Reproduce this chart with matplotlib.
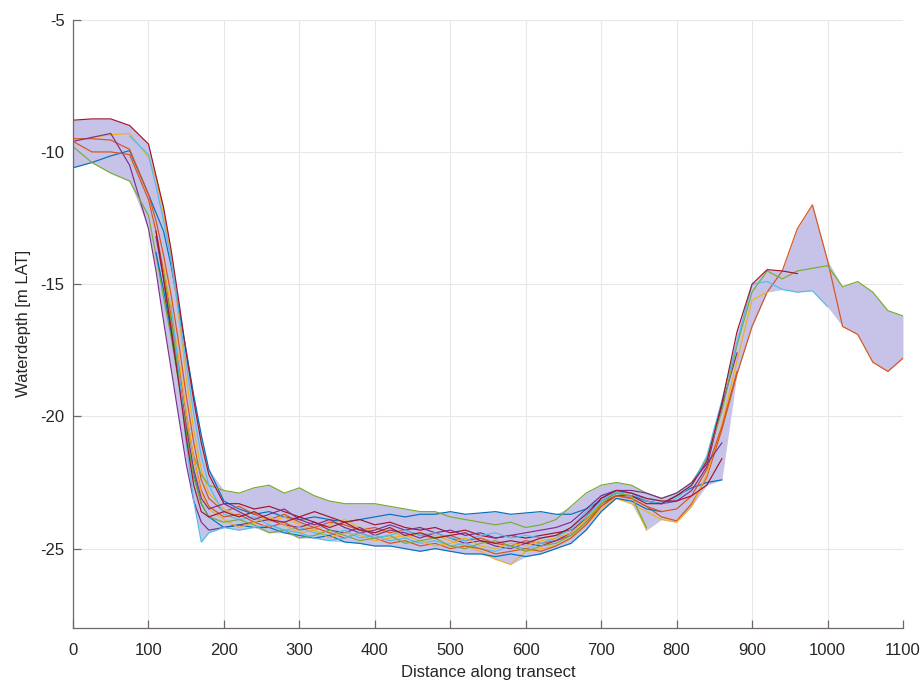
import numpy as np
import matplotlib.pyplot as plt

nan = np.nan

# distance along transect (common grid for all surveys)
dist = [0, 25, 50, 75, 100,
        110, 120, 130, 140, 150, 160, 170, 180,
        200, 220, 240, 260, 280, 300, 320, 340, 360, 380,
        400, 420, 440, 460, 480, 500, 520, 540, 560, 580,
        600, 620, 640, 660, 680, 700, 720, 740, 760, 780,
        800, 820, 840, 860, 880, 900, 920, 940, 960, 980,
        1000, 1020, 1040, 1060, 1080, 1100]

# waterdepth per survey [m LAT]
s01 = [-10.6, -10.4, -10.15, -9.95, -11.6,
       -12.3, -13.0, -14.3, -15.9, -17.5, -19.2, -20.7, -22.0,
       -23.2, -23.5, -23.7, -23.6, -23.8, -23.9, -23.8, -23.9, -24.0, -23.9,
       -23.8, -23.7, -23.8, -23.7, -23.7, -23.6, -23.7, -23.65, -23.6, -23.7,
       -23.65, -23.6, -23.7, -23.7, -23.5, -23.2, -22.9, -23.0, -23.2, -23.3,
       -23.0, -22.7, -22.5, -22.4, nan, nan, nan, nan, nan, nan,
       nan, nan, nan, nan, nan, nan]
s02 = [-9.5, -9.5, -9.55, -9.9, -11.6,
       -12.6, -13.9, -15.4, -17.2, -19.2, -21.0, -22.4, -23.1,
       -23.6, -23.4, -23.7, -23.9, -23.7, -24.0, -24.2, -24.0, -24.1, -24.3,
       -24.2, -24.4, -24.3, -24.5, -24.6, -24.5, -24.7, -24.6, -24.8, -24.9,
       -24.7, -24.8, -24.7, -24.5, -24.0, -23.4, -23.0, -23.1, -23.4, -23.8,
       -23.95, -23.3, -22.3, -20.5, -18.4, -16.6, -15.3, -14.5, -12.9, -12.0,
       -14.1, -16.6, -16.9, -17.95, -18.3, -17.8]
s03 = [nan, -9.45, -9.35, -9.3, -10.2,
       -11.0, -12.3, -14.0, -16.2, -18.5, -20.5, -22.0, -22.9,
       -23.5, -23.8, -23.6, -24.0, -23.8, -24.1, -24.3, -24.1, -23.9, -24.2,
       -24.4, -24.3, -24.6, -24.4, -24.5, -24.7, -24.9, -25.1, -25.4, -25.6,
       -25.1, -25.0, -24.9, -24.6, -24.1, -23.5, -23.1, -23.3, -23.6, -23.9,
       -24.0, -23.4, -22.2, -20.3, -17.9, -15.6, -15.3, nan, nan, nan,
       nan, nan, nan, nan, nan, nan]
s04 = [-9.6, -9.45, -9.3, -10.5, -12.9,
       -14.5, -16.4, -18.2, -20.0, -21.8, -23.2, -24.0, -24.3,
       -24.2, -24.1, -24.0, -23.9, -24.1, -24.2, -24.0, -24.3, -24.4, -24.2,
       -24.5, -24.3, -24.4, -24.6, -24.4, -24.6, -24.8, -24.7, -24.9, -25.0,
       -24.8, -24.9, -24.7, -24.4, -23.8, -23.1, -22.8, -22.9, -23.2, -23.3,
       -23.2, -22.8, -21.9, -19.6, -17.6, nan, nan, nan, nan, nan,
       nan, nan, nan, nan, nan, nan]
s05 = [-9.8, -10.4, -10.8, -11.1, -12.4,
       -13.9, -15.5, -17.0, -18.7, -20.3, -21.5, -22.2, -22.6,
       -22.8, -22.9, -22.7, -22.6, -22.9, -22.7, -23.0, -23.2, -23.3, -23.3,
       -23.3, -23.4, -23.5, -23.6, -23.6, -23.8, -23.9, -24.0, -24.1, -24.0,
       -24.2, -24.1, -23.9, -23.4, -22.9, -22.6, -22.5, -22.6, -22.9, -23.1,
       -22.9, -22.5, -21.6, -19.8, -17.3, -15.3, -14.5, -14.8, -14.5, -14.4,
       -14.3, -15.1, -14.9, -15.3, -16.0, -16.2]
s06 = [nan, nan, nan, -9.4, -10.1,
       -11.3, -12.6, -14.1, -16.0, -18.0, -19.9, -21.5, -22.6,
       -23.7, -23.9, -23.8, -24.1, -24.3, -24.2, -24.4, -24.5, -24.3, -24.6,
       -24.5, -24.7, -24.6, -24.8, -24.7, -24.9, -24.8, -25.0, -25.1, -24.9,
       -25.0, -24.8, -24.6, -24.2, -23.6, -23.0, -22.8, -22.9, -23.2, -23.3,
       -23.1, -22.6, -21.5, -19.4, -17.2, -15.0, -14.9, -15.2, -15.3, -15.25,
       -15.85, nan, nan, nan, nan, nan]
s07 = [-8.8, -8.75, -8.75, -9.0, -9.7,
       -10.9, -12.1, -13.7, -15.6, -17.6, -19.4, -21.0, -22.2,
       -23.3, -23.3, -23.5, -23.4, -23.6, -23.8, -23.6, -23.8, -24.0, -23.9,
       -24.1, -24.0, -24.2, -24.3, -24.2, -24.4, -24.3, -24.5, -24.6, -24.5,
       -24.6, -24.5, -24.4, -24.3, -23.9, -23.3, -23.0, -23.0, -23.3, -23.3,
       -23.0, -22.6, -21.7, -19.5, -16.8, -15.0, -14.45, -14.5, -14.6, nan,
       nan, nan, nan, nan, nan, nan]
s08 = [nan, nan, nan, nan, nan,
       -13.8, -15.2, -16.8, -18.6, -20.5, -22.2, -23.3, -23.8,
       -24.2, -24.1, -24.2, -24.2, -24.4, -24.5, -24.6, -24.5, -24.75, -24.8,
       -24.9, -24.9, -25.0, -25.1, -25.0, -25.1, -25.2, -25.2, -25.3, -25.2,
       -25.3, -25.2, -25.0, -24.8, -24.3, -23.6, -23.1, -23.2, -23.5, -23.6,
       nan, nan, nan, nan, nan, nan, nan, nan, nan, nan,
       nan, nan, nan, nan, nan, nan]
s09 = [-9.6, -10.0, -10.0, -10.1, -11.8,
       -13.0, -14.5, -16.2, -18.0, -19.9, -21.6, -22.8, -23.4,
       -23.8, -23.7, -24.0, -24.2, -24.0, -24.3, -24.2, -24.4, -24.6, -24.4,
       -24.6, -24.8, -24.7, -24.9, -24.8, -25.0, -24.9, -25.0, -25.2, -25.1,
       -25.0, -25.1, -24.9, -24.6, -24.1, -23.4, -23.0, -23.1, -23.4, -23.6,
       -23.5, -23.0, -22.0, -20.4, -18.3, nan, nan, nan, nan, nan,
       nan, nan, nan, nan, nan, nan]
s10 = [nan, nan, nan, nan, nan,
       nan, -14.3, -15.9, -17.8, -19.8, -21.6, -22.9, -23.5,
       -23.9, -24.2, -24.0, -23.8, -24.1, -24.4, -24.3, -24.6, -24.4, -24.5,
       -24.7, -24.6, -24.5, -24.7, -24.9, -24.8, -24.6, -24.9, -25.0, -24.8,
       -24.9, -24.7, -24.6, -24.4, -23.9, -23.3, -22.9, -23.0, -24.3, nan,
       nan, nan, nan, nan, nan, nan, nan, nan, nan, nan,
       nan, nan, nan, nan, nan, nan]
s11 = [nan, nan, nan, nan, nan,
       -13.2, -14.8, -16.5, -18.4, -20.4, -22.0, -23.1, -23.5,
       -23.3, -23.6, -23.9, -23.7, -23.5, -23.9, -24.1, -23.9, -24.2, -24.4,
       -24.3, -24.1, -24.3, -24.2, -24.4, -24.3, -24.5, -24.4, -24.6, -24.5,
       -24.4, -24.3, -24.2, -24.0, -23.5, -23.0, -22.8, -22.8, -22.9, -23.1,
       -22.9, -22.5, -21.8, -21.0, nan, nan, nan, nan, nan, nan,
       nan, nan, nan, nan, nan, nan]
s12 = [nan, nan, nan, nan, nan,
       nan, -14.6, -16.4, -18.5, -20.6, -22.3, -23.3, -23.8,
       -24.0, -23.9, -24.1, -24.4, -24.3, -24.6, -24.5, -24.3, -24.5, -24.7,
       -24.6, -24.5, -24.8, -24.7, -24.6, -24.9, -25.0, -24.8, -24.7, -24.9,
       -25.1, -24.9, -24.8, -24.5, -24.0, -23.3, -22.9, -23.0, -24.2, nan,
       nan, nan, nan, nan, nan, nan, nan, nan, nan, nan,
       nan, nan, nan, nan, nan, nan]
s13 = [nan, nan, nan, nan, nan,
       nan, nan, -15.8, -18.2, -21.0, -23.2, -24.75, -24.4,
       -24.2, -24.3, -24.2, -24.1, -24.3, -24.4, -24.6, -24.7, -24.6, -24.4,
       -24.6, -24.5, -24.3, -24.5, -24.4, -24.6, -24.7, -24.5, -24.4, -24.6,
       -24.5, -24.6, -24.5, -24.3, -23.8, -23.2, -22.85, -22.9, -23.1, -23.2,
       nan, nan, nan, nan, nan, nan, nan, nan, nan, nan,
       nan, nan, nan, nan, nan, nan]
s14 = [nan, nan, nan, nan, nan,
       -13.0, -14.8, -16.7, -18.7, -20.8, -22.6, -23.6, -23.8,
       -23.6, -23.8, -23.6, -23.9, -24.0, -23.8, -24.0, -24.2, -24.0, -24.3,
       -24.4, -24.2, -24.5, -24.4, -24.6, -24.5, -24.4, -24.7, -24.8, -24.7,
       -24.8, -24.6, -24.5, -24.2, -23.7, -23.1, -22.8, -22.9, -23.1, -23.2,
       -23.2, -23.0, -22.6, -21.6, nan, nan, nan, nan, nan, nan,
       nan, nan, nan, nan, nan, nan]

surveys = [s01, s02, s03, s04, s05, s06, s07, s08, s09, s10, s11, s12, s13, s14]

# matlab default colour order
colors = ['#0072BD', '#D95319', '#EDB120', '#7E2F8E', '#77AC30', '#4DBEEE', '#A2142F']

plt.rcParams['font.family'] = ['Liberation Sans', 'DejaVu Sans']
plt.rcParams['axes.unicode_minus'] = False

x = np.array(dist, dtype=float)
Y = np.array(surveys, dtype=float)
upper = np.nanmax(Y, axis=0)
lower = np.nanmin(Y, axis=0)

fig = plt.figure(figsize=(9.23, 6.82), dpi=100)
ax = fig.add_axes([0.0791, 0.0792, 0.8992, 0.8919])

# envelope of all surveys
ax.fill_between(x, lower, upper, color='#c7c3e8', lw=0, zorder=1)

for i, y in enumerate(Y):
    ax.plot(x, y, color=colors[i % len(colors)], lw=0.85, zorder=2)

ax.set_xlim(0, 1100)
ax.set_ylim(-28, -5)
ax.set_xticks(np.arange(0, 1101, 100))
ax.set_yticks([-25, -20, -15, -10, -5])
ax.grid(True, color='#e8e8e8', lw=0.8)
ax.set_axisbelow(True)

for side in ['top', 'right']:
    ax.spines[side].set_visible(False)
for side in ['left', 'bottom']:
    ax.spines[side].set_color('#706868')
    ax.spines[side].set_linewidth(0.9)

ax.tick_params(direction='in', length=5.5, width=0.9, color='#706868',
               labelsize=12, labelcolor='#262626')
ax.tick_params(axis='x', pad=10.5)
ax.tick_params(axis='y', pad=6)

ax.set_xlabel('Distance along transect', fontsize=12, color='#262626', labelpad=5)
ax.set_ylabel('Waterdepth [m LAT]', fontsize=12, color='#262626', labelpad=7)

fig.savefig('out.png', dpi=100)
